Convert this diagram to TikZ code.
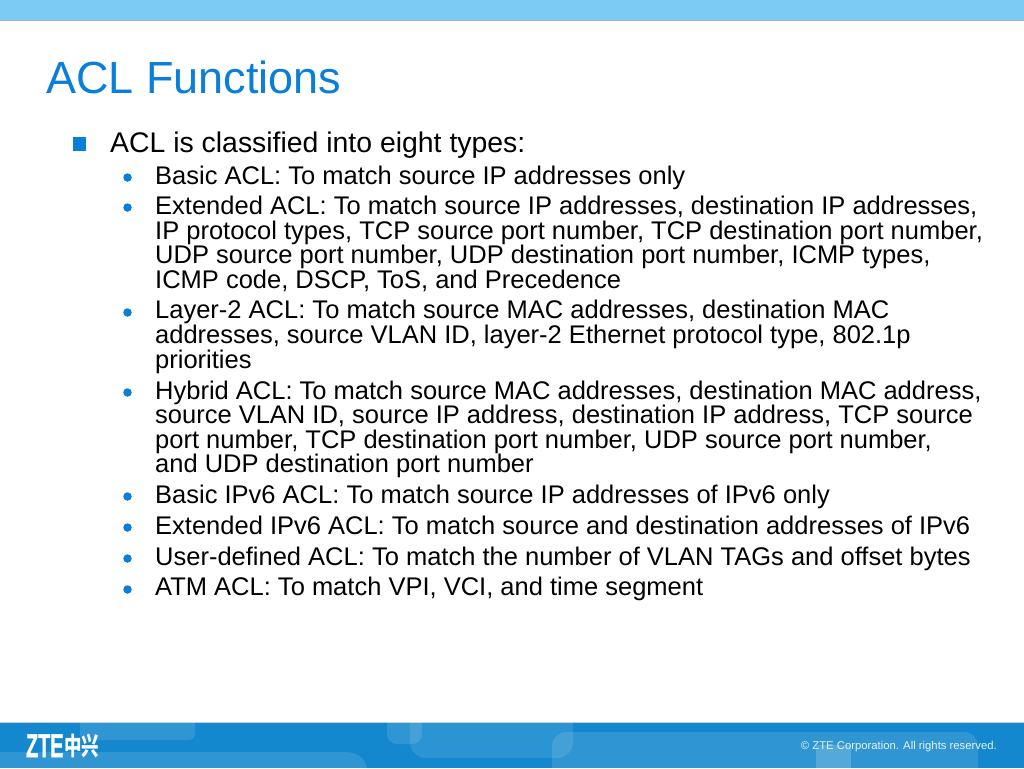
\documentclass[tikz,border=0pt]{standalone}
\usepackage{fontspec}
\setmainfont{Liberation Sans}
\newfontfamily\cjk{Noto Sans CJK SC}
\newfontfamily\logofont{Liberation Sans}[BoldFeatures={FakeBold=1.5}]
\definecolor{ztetop}{HTML}{7BCBF5}
\definecolor{ztetitle}{HTML}{0A7FD9}
\definecolor{ztefoot}{HTML}{1488CE}
\tikzset{
  line/.style={anchor=base west,inner sep=0pt,font=\fontsize{25.5}{25.5}\selectfont,text=black},
  firstline/.style={anchor=base west,inner sep=0pt,font=\fontsize{28.4}{28}\selectfont,text=black},
  dotb/.style={circle,fill=ztetitle,inner sep=0pt,minimum size=8.5pt},
  glass/.style={fill=white,opacity=0.12,draw=none}
}
\begin{document}
\begin{tikzpicture}[x=1pt,y=-1pt]
\useasboundingbox (0,0) rectangle (1024,768);
\fill[white] (0,0) rectangle (1024,768);
% top band
\fill[ztetop] (0,0) rectangle (1024,20);
\fill[black!30] (0,20) rectangle (1024,21);
% footer
\fill[ztefoot] (0,722) rectangle (1024,768);
\fill[black!20] (0,721.5) rectangle (1024,722.5);
\begin{scope}
\clip (0,722.5) rectangle (1024,768);
\fill[glass,rounded corners=6pt] (80,700) rectangle (195,740);
\fill[glass] (0,752) -- (345,752) .. controls (358,752) and (366,760) .. (367,768) -- (0,768) -- cycle;
\fill[glass,rounded corners=10pt] (387,700) rectangle (422,744);
\fill[glass,opacity=0.1,rounded corners=16pt] (410,700) rectangle (573,758);
\fill[glass,rounded corners=14pt] (552,732) rectangle (978,800);
\fill[glass,opacity=0.18] (816,745) rectangle (851,768);
\end{scope}
% title
\node[anchor=base west,inner sep=0pt,text=ztetitle,font=\fontsize{45}{45}\selectfont] (title) at (46,93) {ACL Functions};
% bullets
\node[rectangle,fill=ztetitle,inner sep=0pt,minimum size=13.5pt] (b0) at (79.5,144) {};
\foreach \n/\y in {1/177.5,2/207.5,3/312.5,4/392.5,5/496.5,6/527.5,7/558.5,8/589.5}
  \node[dotb] (d\n) at (127.5,\y) {};
% text
\node[firstline] (t0) at (110,152) {ACL is classified into eight types:};
\node[line] (t1) at (155,184) {Basic ACL: To match source IP addresses only};
\node[line] (t2a) at (155,214) {Extended ACL: To match source IP addresses, destination IP addresses,};
\node[line] (t2b) at (155,239) {IP protocol types, TCP source port number, TCP destination port number,};
\node[line] (t2c) at (155,263) {UDP source port number, UDP destination port number, ICMP types,};
\node[line] (t2d) at (155,288) {ICMP code, DSCP, ToS, and Precedence};
\node[line] (t3a) at (155,318) {Layer-2 ACL: To match source MAC addresses, destination MAC};
\node[line] (t3b) at (155,343) {addresses, source VLAN ID, layer-2 Ethernet protocol type, 802.1p};
\node[line] (t3c) at (155,368) {priorities};
\node[line] (t4a) at (155,399) {Hybrid ACL: To match source MAC addresses, destination MAC address,};
\node[line] (t4b) at (155,423) {source VLAN ID, source IP address, destination IP address, TCP source};
\node[line] (t4c) at (155,448) {port number, TCP destination port number, UDP source port number,};
\node[line] (t4d) at (155,472) {and UDP destination port number};
\node[line] (t5) at (155,503) {Basic IPv6 ACL: To match source IP addresses of IPv6 only};
\node[line] (t6) at (155,534) {Extended IPv6 ACL: To match source and destination addresses of IPv6};
\node[line] (t7) at (155,565) {User-defined ACL: To match the number of VLAN TAGs and offset bytes};
\node[line] (t8) at (155,595) {ATM ACL: To match VPI, VCI, and time segment};
% logo
\node[anchor=base west,inner sep=0pt,text=white,font=\logofont\bfseries\fontsize{33}{33}\selectfont,xscale=0.6] (logoa) at (26,757) {ZTE};
\node[anchor=base west,inner sep=0pt,text=white,font=\cjk\bfseries\fontsize{25}{25}\selectfont,xscale=0.7] (logob) at (64,755) {中兴};
% copyright
\node[anchor=base east,inner sep=0pt,text=white,opacity=0.88,font=\fontsize{11.3}{12}\selectfont] (copy) at (997,749.5) {© ZTE Corporation. All rights reserved.};
\end{tikzpicture}
\end{document}
